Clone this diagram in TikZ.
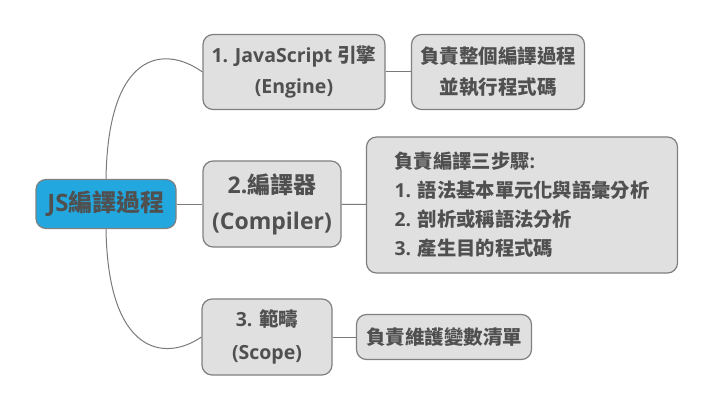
\documentclass[tikz,border=0pt]{standalone}
\usepackage{fontspec}
\setmainfont{Open Sans}
\newfontfamily\cjk{Noto Sans CJK TC}
\newcommand{\zh}[1]{{\cjk #1}}
\usepackage{tikz}
\definecolor{boxfill}{HTML}{E0E0E0}
\definecolor{boxline}{HTML}{808080}
\definecolor{textgray}{HTML}{505050}
\definecolor{rootblue}{HTML}{22A7DF}
\definecolor{linkgray}{HTML}{7A7A7A}

\begin{document}
\begin{tikzpicture}[x=1pt,y=-1pt,
    box/.style={draw=boxline, line width=1.2pt, fill=boxfill, rounded corners=10pt,
        text=textgray, align=center, inner sep=0pt},
    link/.style={draw=linkgray, line width=1pt}]
        \useasboundingbox (0,0) rectangle (716,412);
        \node[box, fill=rootblue, minimum width=140, minimum height=49,
            font=\bfseries\fontsize{24}{28}\selectfont] (root) at (106,204) {JS\zh{編譯過程}};
        \node[box, minimum width=182, minimum height=75,
            font=\bfseries\fontsize{19.5}{31}\selectfont] (engine) at (294,72) {1. JavaScript \zh{引擎}\\(Engine)};
        \node[box, minimum width=173, minimum height=75,
            font=\bfseries\fontsize{19.5}{31}\selectfont] (enginetxt) at (498,72) {\zh{負責整個編譯過程}\\\zh{並執行程式碼}};
        \node[box, minimum width=138, minimum height=86,
            font=\bfseries\fontsize{23}{36}\selectfont] (compiler) at (272,204) {2.\zh{編譯器}\\(Compiler)};
        \node[box, align=left, minimum width=311, minimum height=136,
            font=\bfseries\fontsize{19.3}{29}\selectfont] (compilertxt) at (522,205)
            {\zh{負責編譯三步驟}:\\1. \zh{語法基本單元化與語彙分析}\\2. \zh{剖析或稱語法分析}\\3. \zh{產生目的程式碼}};
        \node[box, minimum width=130, minimum height=76,
            font=\bfseries\fontsize{19.5}{33}\selectfont] (scope) at (267,337) {3. \zh{範疇}\\(Scope)};
        \node[box, minimum width=175, minimum height=45,
            font=\bfseries\fontsize{19.5}{23}\selectfont] (scopetxt) at (444,337) {\zh{負責維護變數清單}};
        \draw [link] (root.north) .. controls (108,50) and (165,45) .. (engine.west);
        \draw [link] (root.east) -- (compiler.west);
        \draw [link] (root.south) .. controls (108,355) and (165,362) .. (scope.west);
        \draw [link] (engine) -- (enginetxt);
        \draw [link] (compiler) -- (compilertxt);
        \draw [link] (scope) -- (scopetxt);
    \end{tikzpicture}
\end{document}
